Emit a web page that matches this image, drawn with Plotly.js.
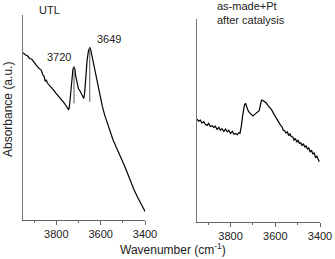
<!DOCTYPE html>
<html>
<head>
<meta charset="utf-8">
<script src="https://cdn.plot.ly/plotly-3.0.1.min.js"></script>
<style>html,body{margin:0;padding:0;background:#fff;}#chart{width:335px;height:259px;}</style>
</head>
<body>
<div id="chart"></div>
<script>
// UTL spectrum (left panel)
var utlWavenumber = [3950,3940,3930,3920,3910,3903,3895,3885,3875,3868,3860,3855,3850,3845,3840,3830,3820,3812,3800,3790,3780,3774,3765,3755,3744,3740,3735,3730,3725,3720,3716,3712,3706,3700,3695,3688,3680,3676,3672,3667,3661,3655,3649,3645,3641,3635,3629,3623,3616,3610,3600,3592,3582,3570,3557,3544,3527,3509,3494,3479,3464,3449,3434,3418,3408,3399];
var utlAbsorbance = [0.816,0.806,0.801,0.788,0.784,0.772,0.762,0.748,0.737,0.731,0.707,0.702,0.676,0.683,0.668,0.656,0.646,0.634,0.616,0.604,0.593,0.585,0.571,0.556,0.537,0.560,0.620,0.690,0.735,0.748,0.735,0.700,0.660,0.640,0.634,0.620,0.600,0.593,0.620,0.700,0.780,0.825,0.841,0.832,0.810,0.780,0.748,0.716,0.672,0.634,0.590,0.553,0.513,0.472,0.430,0.390,0.349,0.309,0.268,0.228,0.186,0.146,0.112,0.081,0.060,0.040];
// peak markers
var peakWavenumbers = [3720, 3649];
var peakTops = [0.748, 0.841];
var peakBottoms = [0.569, 0.577];
var peakLabels = ["3720", "3649"];

// as-made+Pt after catalysis (right panel)
var ptWavenumber = [3950,3942,3935,3928,3920,3912,3905,3898,3890,3882,3875,3868,3860,3852,3845,3838,3830,3822,3815,3808,3800,3792,3785,3778,3770,3763,3758,3752,3745,3738,3733,3728,3720,3712,3705,3700,3692,3685,3678,3672,3666,3661,3655,3648,3640,3633,3625,3616,3608,3600,3594,3588,3582,3576,3570,3564,3558,3552,3546,3540,3534,3528,3522,3516,3510,3504,3498,3492,3486,3480,3474,3468,3462,3456,3450,3444,3438,3432,3426,3420,3414,3408,3403];
var ptAbsorbance = [0.506,0.497,0.502,0.488,0.494,0.480,0.476,0.486,0.470,0.474,0.466,0.472,0.456,0.466,0.452,0.460,0.446,0.458,0.444,0.452,0.436,0.447,0.432,0.436,0.430,0.440,0.437,0.470,0.530,0.575,0.585,0.570,0.545,0.535,0.525,0.522,0.530,0.535,0.540,0.548,0.580,0.601,0.598,0.592,0.586,0.575,0.565,0.552,0.535,0.519,0.512,0.496,0.488,0.476,0.470,0.452,0.450,0.438,0.444,0.426,0.434,0.420,0.420,0.404,0.412,0.394,0.402,0.388,0.390,0.376,0.386,0.368,0.376,0.358,0.366,0.344,0.354,0.334,0.342,0.316,0.324,0.304,0.297];

var xTickVals = [3800, 3600, 3400];
var xTickText = ["3800", "3600", "3400"];

var W = 335, H = 259;
function px(x){ return x / W; }
function py(y){ return 1 - y / H; }

var traces = [
  {x: utlWavenumber, y: utlAbsorbance, xaxis: 'x', yaxis: 'y', mode: 'lines', line: {color: '#000', width: 1.2}, hoverinfo: 'skip'},
  {x: ptWavenumber, y: ptAbsorbance, xaxis: 'x2', yaxis: 'y2', mode: 'lines', line: {color: '#000', width: 1.2}, hoverinfo: 'skip'}
];
for (var i = 0; i < peakWavenumbers.length; i++) {
  traces.push({x: [peakWavenumbers[i], peakWavenumbers[i]], y: [peakTops[i], peakBottoms[i]], xaxis: 'x', yaxis: 'y', mode: 'lines', line: {color: '#555', width: 1}, hoverinfo: 'skip'});
}

var xaxisBase = {
  range: [3950, 3400], showline: true, linecolor: '#666', linewidth: 1, mirror: false,
  showgrid: false, zeroline: false, ticks: 'outside', ticklen: 4, tickwidth: 1, tickcolor: '#666',
  tickvals: xTickVals, ticktext: xTickText, tickfont: {family: 'Liberation Sans, Arial, sans-serif', size: 11, color: '#222'},
  minor: {tickvals: [3900, 3700, 3500], ticks: 'outside', ticklen: 2, tickcolor: '#666', tickwidth: 1, showgrid: false},
  fixedrange: true
};
var yaxisBase = {
  range: [0, 1], showline: true, linecolor: '#777', linewidth: 1, showgrid: false, zeroline: false,
  showticklabels: false, ticks: '', fixedrange: true
};

var layout = {
  width: W, height: H,
  margin: {l: 0, r: 0, t: 0, b: 0},
  paper_bgcolor: '#fff', plot_bgcolor: '#fff',
  showlegend: false,
  font: {family: 'Liberation Sans, Arial, sans-serif', size: 11, color: '#222'},
  xaxis: Object.assign({}, xaxisBase, {domain: [px(23), px(145)], anchor: 'y'}),
  yaxis: Object.assign({}, yaxisBase, {domain: [py(220), py(15)], anchor: 'x'}),
  xaxis2: Object.assign({}, xaxisBase, {domain: [px(197), px(320)], anchor: 'y2'}),
  yaxis2: Object.assign({}, yaxisBase, {domain: [py(222), py(19)], anchor: 'x2'}),
  annotations: [
    {text: 'UTL', xref: 'paper', yref: 'paper', x: px(49.5), y: py(9.5), xanchor: 'center', yanchor: 'middle', showarrow: false, font: {size: 11, color: '#222'}},
    {text: peakLabels[0], xref: 'paper', yref: 'paper', x: px(59), y: py(57), xanchor: 'center', yanchor: 'middle', showarrow: false, font: {size: 11, color: '#222'}},
    {text: peakLabels[1], xref: 'paper', yref: 'paper', x: px(108.7), y: py(39), xanchor: 'center', yanchor: 'middle', showarrow: false, font: {size: 11, color: '#222'}},
    {text: 'as-made+Pt', xref: 'paper', yref: 'paper', x: px(215), y: py(6.5), xanchor: 'left', yanchor: 'middle', showarrow: false, font: {size: 11, color: '#222'}},
    {text: 'after catalysis', xref: 'paper', yref: 'paper', x: px(215), y: py(20.5), xanchor: 'left', yanchor: 'middle', showarrow: false, font: {size: 11, color: '#222'}},
    {text: 'Wavenumber (cm<sup>-1</sup>)', xref: 'paper', yref: 'paper', x: px(173), y: py(249), xanchor: 'center', yanchor: 'middle', showarrow: false, font: {size: 12, color: '#222'}},
    {text: 'Absorbance (a.u.)', xref: 'paper', yref: 'paper', x: px(8), y: py(110), xanchor: 'center', yanchor: 'middle', textangle: -90, showarrow: false, font: {size: 12, color: '#222'}}
  ]
};

Plotly.newPlot('chart', traces, layout, {staticPlot: true, displayModeBar: false});
</script>
</body>
</html>
